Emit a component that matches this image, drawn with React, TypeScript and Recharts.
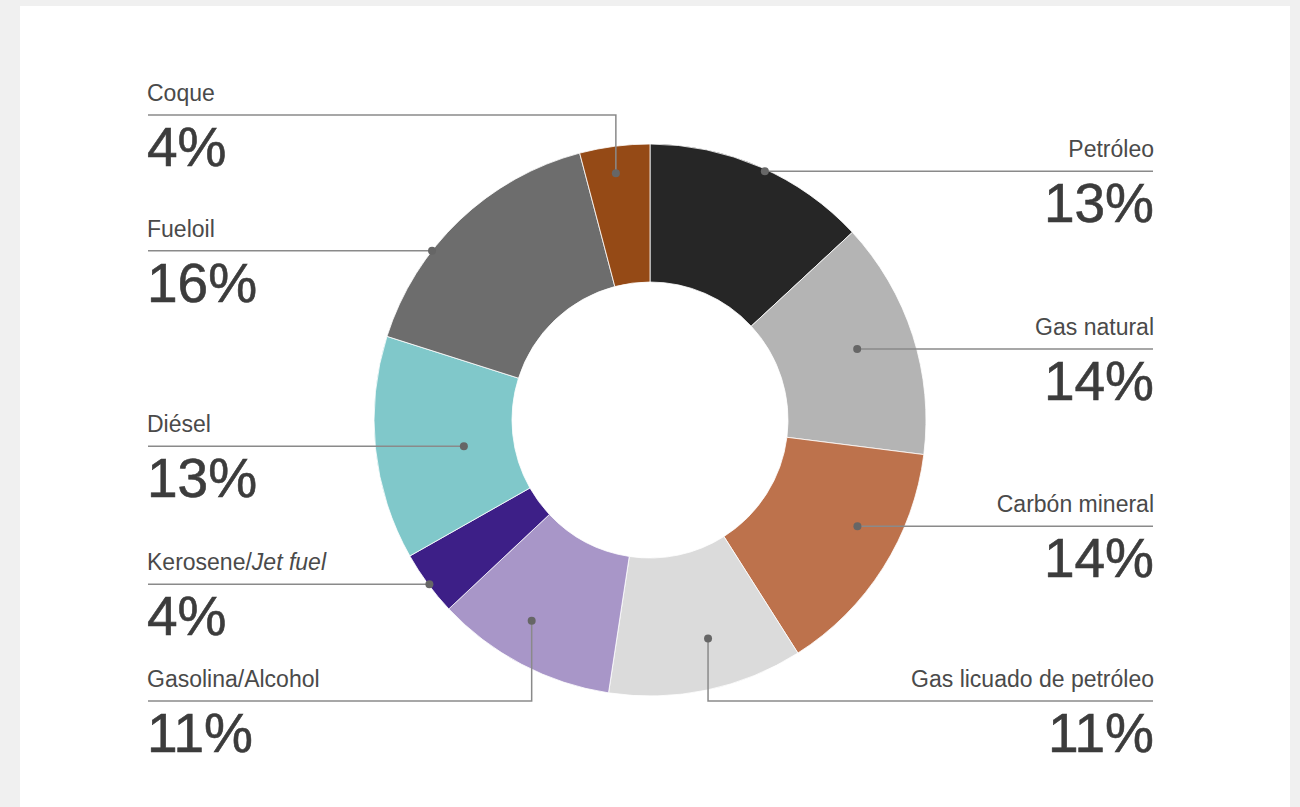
import React from 'react';
import { PieChart, Pie, Cell } from 'recharts';

// ---- data ----
const categories = [
  'Petróleo',
  'Gas natural',
  'Carbón mineral',
  'Gas licuado de petróleo',
  'Gasolina/Alcohol',
  'Kerosene/Jet fuel',
  'Diésel',
  'Fueloil',
  'Coque',
];
const shares = [13.1, 13.9, 14.0, 11.4, 10.6, 3.8, 13.1, 16.0, 4.1];
const sliceColors = [
  '#262626',
  '#b4b4b4',
  '#bd724c',
  '#dbdbdb',
  '#a896c8',
  '#3d1f87',
  '#80c8ca',
  '#6d6d6d',
  '#954a16',
];
const italicParts = ['', '', '', '', '', 'Jet fuel', '', '', ''];

// ---- label layout (annotation placement) ----
type LabelLayout = { side: 'left' | 'right'; dAngle: number; r: number; elbowY?: number };
const labelLayout: LabelLayout[] = [
  { side: 'right', dAngle: -1.2, r: 274 },
  { side: 'right', dAngle: 1.1, r: 219 },
  { side: 'right', dAngle: 5.3, r: 233 },
  { side: 'right', dAngle: 3.0, r: 226, elbowY: 701 },
  { side: 'left', dAngle: -2.8, r: 233, elbowY: 701 },
  { side: 'left', dAngle: 0.3, r: 275 },
  { side: 'left', dAngle: 2.1, r: 188 },
  { side: 'left', dAngle: 8.6, r: 276 },
  { side: 'left', dAngle: 0.5, r: 249, elbowY: 115 },
];

const W = 1300;
const H = 807;
const CX = 650;
const CY = 420;
const LEFT_X = 148;
const RIGHT_X = 1153;
const FONT = '"Liberation Sans", Arial, Helvetica, sans-serif';

const data = categories.map((name, i) => ({ name, value: shares[i] }));

const RAD = Math.PI / 180;

function renderLabel(props: any) {
  const { midAngle, index } = props;
  const cx = typeof props.cx === 'number' ? props.cx : CX;
  const cy = typeof props.cy === 'number' ? props.cy : CY;
  const lay = labelLayout[index];
  const ang = (midAngle + lay.dAngle) * RAD;
  const dx = cx + lay.r * Math.cos(ang);
  const dy = cy - lay.r * Math.sin(ang);
  const lineY = lay.elbowY !== undefined ? lay.elbowY : dy;
  const endX = lay.side === 'left' ? LEFT_X : RIGHT_X;
  const path =
    lay.elbowY !== undefined
      ? `M${dx},${dy}L${dx},${lineY}L${endX},${lineY}`
      : `M${dx},${dy}L${endX},${lineY}`;
  const anchor = lay.side === 'left' ? 'start' : 'end';
  const textX = lay.side === 'left' ? LEFT_X - 1 : RIGHT_X + 1;
  const name = categories[index];
  const ital = italicParts[index];
  const plain = ital ? name.slice(0, name.length - ital.length) : name;
  return (
    <g key={`lbl-${index}`}>
      <path d={path} stroke="#8a8a8a" strokeWidth={1.5} fill="none" />
      <circle cx={dx} cy={dy} r={4} fill="#666666" />
      <text
        x={textX}
        y={lineY - 14}
        textAnchor={anchor}
        fontFamily={FONT}
        fontSize={23}
        fill="#4a4a4a"
      >
        {plain}
        {ital ? <tspan fontStyle="italic">{ital}</tspan> : null}
      </text>
      <text
        x={textX}
        y={lineY + 51}
        textAnchor={anchor}
        fontFamily={FONT}
        fontSize={55}
        fill="#3c3c3c"
        stroke="#3c3c3c"
        strokeWidth={0.6}
      >
        {`${Math.round(shares[index])}%`}
      </text>
    </g>
  );
}

export default function App() {
  return (
    <div
      style={{
        position: 'absolute',
        left: 0,
        top: 0,
        width: W,
        height: H,
        background: '#f0f0f0',
        overflow: 'hidden',
      }}
    >
      <div
        style={{
          position: 'absolute',
          left: 20,
          top: 6,
          width: 1270,
          height: H - 6,
          background: '#ffffff',
        }}
      />
      <div style={{ position: 'absolute', left: 0, top: 0 }}>
        <PieChart width={W} height={H} margin={{ top: 0, right: 0, bottom: 0, left: 0 }}>
          <Pie
            data={data}
            dataKey="value"
            nameKey="name"
            cx={CX}
            cy={CY}
            innerRadius={138}
            outerRadius={276}
            startAngle={90}
            endAngle={-270}
            stroke="#ffffff"
            strokeWidth={0.8}
            label={renderLabel}
            labelLine={false}
            isAnimationActive={false}
          >
            {data.map((d, i) => (
              <Cell key={d.name} fill={sliceColors[i]} />
            ))}
          </Pie>
        </PieChart>
      </div>
    </div>
  );
}
